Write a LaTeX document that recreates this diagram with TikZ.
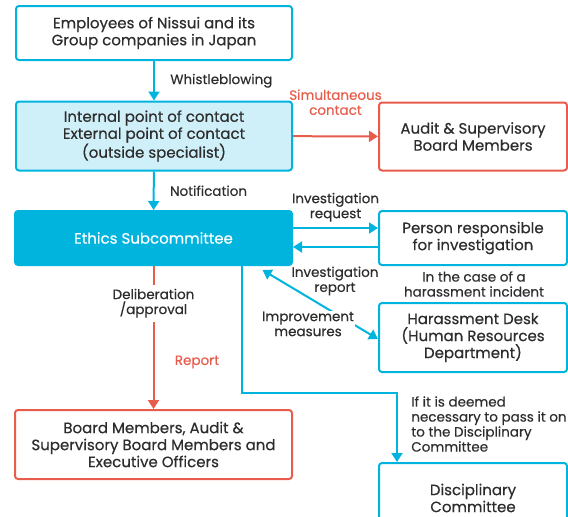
\documentclass[tikz,border=0pt]{standalone}
\usepackage{fontspec}
\setmainfont{Poppins}[FakeBold=0.4]
\usepackage{tikz}
\usetikzlibrary{arrows.meta, positioning, calc}
\definecolor{lineblue}{RGB}{0, 180, 222}
\definecolor{lightblue}{RGB}{208, 240, 249}
\definecolor{linered}{RGB}{232, 92, 76}
\definecolor{txtgray}{RGB}{45, 45, 45}

\begin{document}
\begin{tikzpicture}[x=1pt, y=-1pt, line width=2pt,
    every node/.style={font=\fontsize{15}{17}\selectfont, text=txtgray, align=center},
    bluebox/.style={draw=lineblue, rounded corners=3pt, fill=white},
    redbox/.style={draw=linered, rounded corners=3pt, fill=white},
    bluearr/.style={draw=lineblue, -{Triangle[width=11pt,length=9pt]}},
    redarr/.style={draw=linered, -{Triangle[width=11pt,length=9pt]}},
    lbl/.style={font=\fontsize{13.5}{15}\selectfont}]
    \useasboundingbox (0,0) rectangle (568,517);
    % boxes
    \node[bluebox, minimum width=276pt, minimum height=54pt] (emp) at (154,33) {Employees of Nissui and its\\Group companies in Japan};
    \node[bluebox, fill=lightblue, minimum width=276pt, minimum height=69pt] (cont) at (154,136) {Internal point of contact\\External point of contact\\(outside specialist)};
    \node[redbox, minimum width=188pt, minimum height=68pt] (aud) at (473,136.5) {Audit \& Supervisory\\Board Members};
    \node[bluebox, fill=lineblue, minimum width=277pt, minimum height=54pt, text=white] (eth) at (153.5,238) {Ethics Subcommittee};
    \node[bluebox, minimum width=188pt, minimum height=54pt] (pers) at (473,238) {Person responsible\\for investigation};
    \node[bluebox, minimum width=188pt, minimum height=69pt] (har) at (473,337.5) {Harassment Desk\\(Human Resources\\Department)};
    \node[redbox, minimum width=277pt, minimum height=69pt] (brd) at (153.5,444.5) {Board Members, Audit \&\\Supervisory Board Members and\\Executive Officers};
    \node[bluebox, minimum width=188pt, minimum height=70pt] (disc) at (473,498) {Disciplinary\\Committee};
    % connectors
    \draw[bluearr] (emp) -- (cont) node[midway, right=12pt, lbl] (wb) {Whistleblowing};
    \draw[redarr] (cont) -- (aud) node[midway, above=17pt, lbl, text=linered] (sim) {Simultaneous\\contact};
    \draw[bluearr] (cont) -- (eth) node[midway, right=12pt, lbl] (ntf) {Notification};
    \draw[bluearr] ([yshift=10pt]eth.east) -- ([yshift=10pt]pers.west) node[midway, above=2pt, lbl] (req) {Investigation\\request};
    \draw[bluearr] ([yshift=-9pt]pers.west) -- ([yshift=-9pt]eth.east);
    \draw[bluearr, {Triangle[width=11pt,length=9pt]}-{Triangle[width=11pt,length=9pt]}] ([xshift=109pt,yshift=-4pt]eth.south) -- ([yshift=-1.5pt]har.west);
    \node[lbl] (rep) at (335,281) {Investigation\\report};
    \node[lbl, fill=white, inner sep=1pt] (imp) at (308,324) {Improvement\\measures};
    \draw[redarr] (eth) -- (brd) node[pos=0.26, fill=white, lbl, inner sep=4pt] (del) {Deliberation\\/approval};
    \node[lbl, text=linered] (rpt) at (197,362) {Report};
    \node[lbl] (case) at (474,284) {In the case of a\\harassment incident};
    \draw[bluearr] ([xshift=88.5pt]eth.south) -- ++(0,127) -| ([xshift=-76pt]disc.north);
    \node[lbl, align=left, anchor=west] (deem) at (407,424) {If it is deemed\\necessary to pass it on\\to the Disciplinary\\Committee};
\end{tikzpicture}
\end{document}
